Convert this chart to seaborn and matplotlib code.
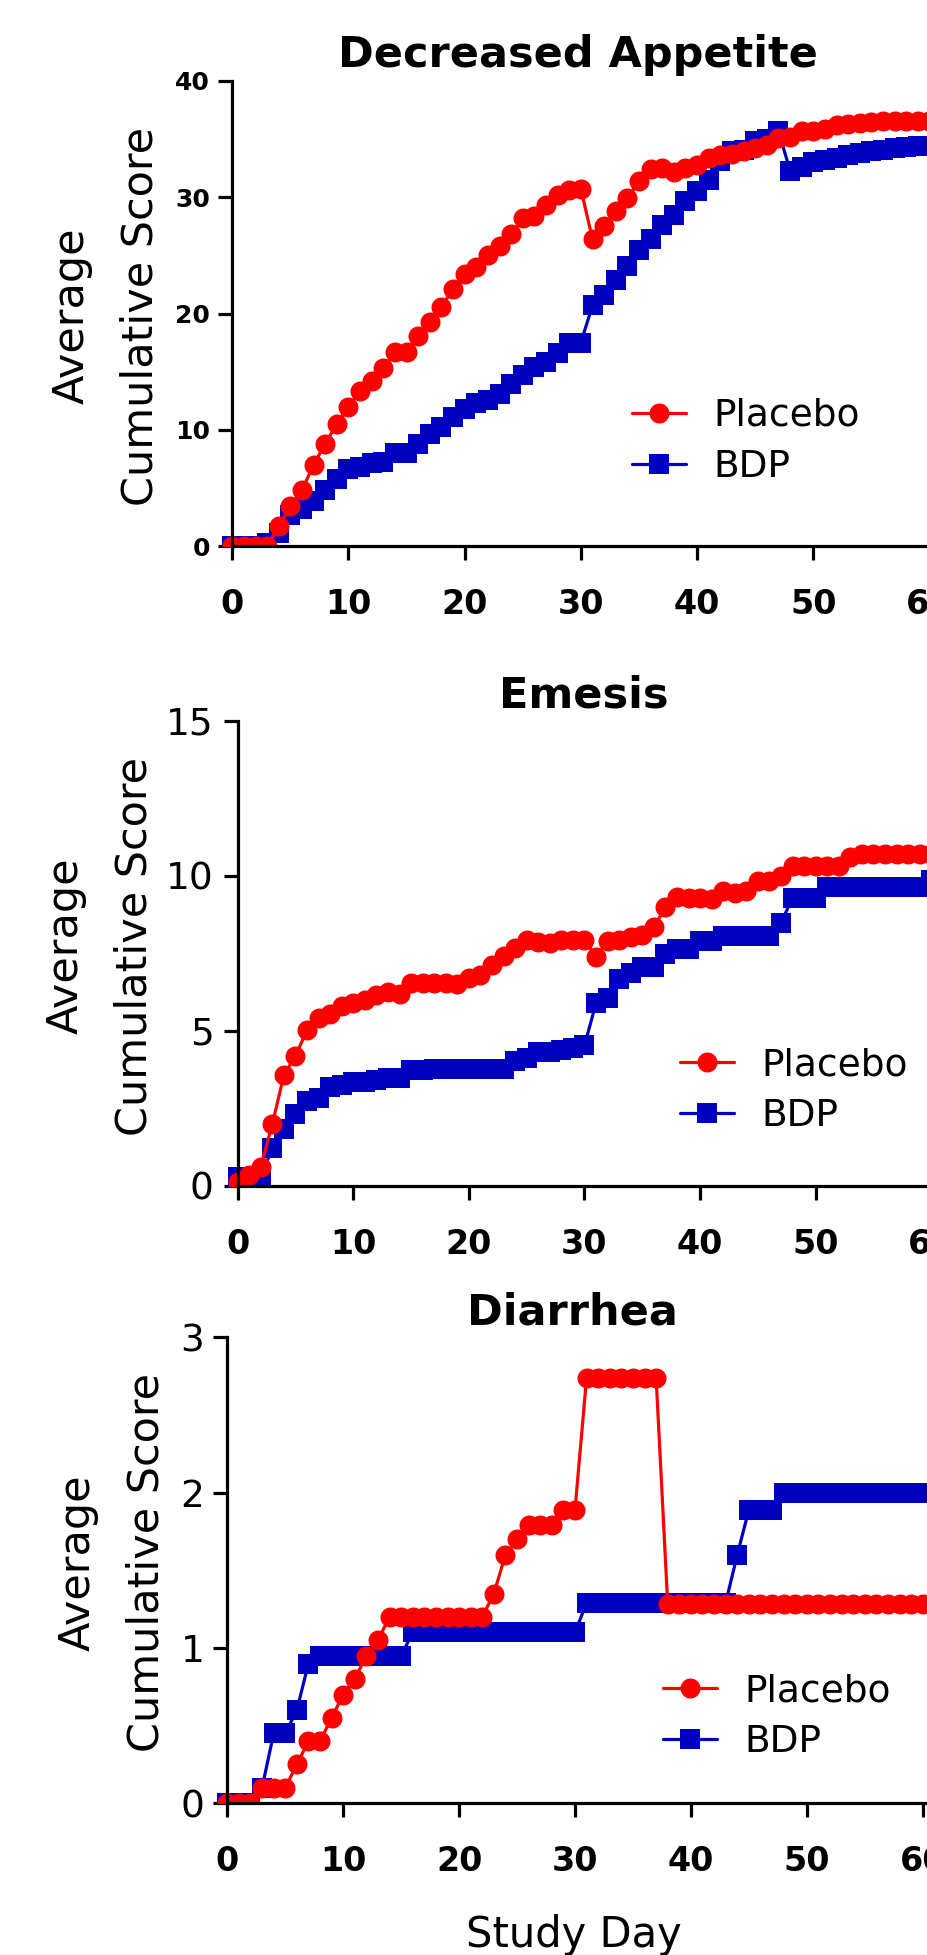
import matplotlib
matplotlib.use("Agg")
import matplotlib.pyplot as plt
import pandas as pd
import seaborn as sns

# ---------------- data ----------------
days = list(range(0, 61))

appetite_placebo = [0, 0, 0, 0, 1.7, 3.4, 4.8, 7.0, 8.8, 10.5,
                    12.0, 13.3, 14.2, 15.3, 16.7, 16.7, 18.1, 19.3, 20.6, 22.1,
                    23.4, 24.0, 25.0, 25.8, 26.8, 28.2, 28.4, 29.3, 30.2, 30.6,
                    30.7, 26.4, 27.5, 28.8, 29.9, 31.4, 32.4, 32.5, 32.2, 32.5,
                    32.8, 33.4, 33.6, 33.7, 34.0, 34.2, 34.5, 35.1, 35.2, 35.7,
                    35.7, 35.9, 36.2, 36.3, 36.4, 36.5, 36.6, 36.6, 36.6, 36.6, 36.6]
appetite_bdp = [0, 0, 0, 0.3, 1.1, 2.7, 3.2, 3.9, 4.8, 5.8,
                6.6, 6.8, 7.1, 7.2, 8.0, 8.0, 8.8, 9.6, 10.2, 11.1,
                11.8, 12.3, 12.6, 13.1, 13.9, 14.7, 15.4, 15.8, 16.6, 17.5,
                17.5, 20.7, 21.6, 22.9, 24.1, 25.5, 26.4, 27.6, 28.5, 29.7,
                30.5, 31.5, 33.1, 34.0, 34.1, 34.8, 35.0, 35.7, 32.3, 32.6,
                33.0, 33.2, 33.4, 33.6, 33.8, 34.0, 34.1, 34.2, 34.3, 34.4, 34.4]

emesis_placebo = [0.14, 0.35, 0.62, 2.0, 3.58, 4.19, 5.03, 5.4, 5.54, 5.8,
                  5.9, 6.0, 6.16, 6.27, 6.2, 6.54, 6.54, 6.54, 6.54, 6.52,
                  6.7, 6.8, 7.13, 7.4, 7.67, 7.94, 7.85, 7.83, 7.94, 7.94,
                  7.94, 7.38, 7.91, 7.94, 8.02, 8.1, 8.34, 8.99, 9.31, 9.28,
                  9.28, 9.26, 9.5, 9.44, 9.5, 9.82, 9.82, 10.0, 10.32, 10.32,
                  10.32, 10.32, 10.32, 10.62, 10.7, 10.7, 10.7, 10.7, 10.7, 10.7, 10.7]
emesis_bdp = [0.28, 0.28, 0.28, 1.24, 1.84, 2.32, 2.73, 2.85, 3.18, 3.27,
              3.34, 3.34, 3.43, 3.48, 3.48, 3.73, 3.75, 3.77, 3.78, 3.78,
              3.78, 3.78, 3.78, 3.78, 4.04, 4.14, 4.32, 4.32, 4.4, 4.46,
              4.53, 5.9, 6.07, 6.66, 6.87, 7.06, 7.06, 7.49, 7.65, 7.65,
              7.9, 7.9, 8.07, 8.07, 8.07, 8.07, 8.07, 8.48, 9.3, 9.3,
              9.3, 9.63, 9.65, 9.65, 9.65, 9.65, 9.65, 9.65, 9.65, 9.65, 9.86]

diarrhea_placebo = [0, 0, 0, 0.1, 0.1, 0.1, 0.25, 0.40, 0.40, 0.55,
                    0.70, 0.80, 0.95, 1.05, 1.2, 1.2, 1.2, 1.2, 1.2, 1.2,
                    1.2, 1.2, 1.2, 1.35, 1.6, 1.7, 1.79, 1.79, 1.79, 1.89,
                    1.89, 2.74, 2.74, 2.74, 2.74, 2.74, 2.74, 2.74, 1.28, 1.28,
                    1.28, 1.28, 1.28, 1.28, 1.28, 1.28, 1.28, 1.28, 1.28, 1.28,
                    1.28, 1.28, 1.28, 1.28, 1.28, 1.28, 1.28, 1.28, 1.28, 1.28, 1.28]
diarrhea_bdp = [0, 0, 0, 0.1, 0.45, 0.45, 0.6, 0.9, 0.95, 0.95,
                0.95, 0.95, 0.95, 0.95, 0.95, 0.95, 1.1, 1.1, 1.1, 1.1,
                1.1, 1.1, 1.1, 1.1, 1.1, 1.1, 1.1, 1.1, 1.1, 1.1,
                1.1, 1.29, 1.29, 1.29, 1.29, 1.29, 1.29, 1.29, 1.29, 1.29,
                1.29, 1.29, 1.29, 1.29, 1.6, 1.89, 1.89, 1.89, 2.0, 2.0,
                2.0, 2.0, 2.0, 2.0, 2.0, 2.0, 2.0, 2.0, 2.0, 2.0, 2.0]

titles = ["Decreased Appetite", "Emesis", "Diarrhea"]
series_labels = ["Placebo", "BDP"]
x_ticks = [0, 10, 20, 30, 40, 50, 60]
y_ticks = [[0, 10, 20, 30, 40], [0, 5, 10, 15], [0, 1, 2, 3]]
y_label = "Average\nCumulative Score"
x_label = "Study Day"

# ---------------- style ----------------
sns.set_style("ticks")
plt.rcParams['font.family'] = ['DejaVu Sans']

RED = "#FF0000"
BLUE = "#0000C0"
W, H = 928, 1955

fig = plt.figure(figsize=(W / 100, H / 100), dpi=100)

layout = [
    dict(x0=232.3, pxd=11.62, ybot=546.0, ytop=81.0, ysize=18, yweight='bold', ypad=6,
         title_x=578, title_base=67, ylab_x=106, ylab_y=316, leg=(632, 398)),
    dict(x0=237.7, pxd=11.56, ybot=1186.0, ytop=720.7, ysize=27, yweight='normal', ypad=7.5,
         title_x=584, title_base=707, ylab_x=100, ylab_y=946, leg=(680, 1047)),
    dict(x0=227.3, pxd=11.59, ybot=1803.3, ytop=1337.3, ysize=27, yweight='normal', ypad=6.5,
         title_x=572.5, title_base=1324.6, ylab_x=112, ylab_y=1563, leg=(663, 1673)),
]
data = [(appetite_placebo, appetite_bdp), (emesis_placebo, emesis_bdp),
        (diarrhea_placebo, diarrhea_bdp)]

for i, (lay, (plc, bdp)) in enumerate(zip(layout, data)):
    left_px = lay['x0'] - lay['pxd']
    width_px = lay['pxd'] * 63
    height_px = lay['ybot'] - lay['ytop']
    ax = fig.add_axes([left_px / W, 1 - lay['ybot'] / H, width_px / W, height_px / H])
    df = pd.DataFrame({"day": days, "Placebo": plc, "BDP": bdp})
    sns.lineplot(data=df, x="day", y="BDP", ax=ax, color=BLUE, marker='s',
                 markersize=13.9, linewidth=2.3, markeredgewidth=0, label="BDP",
                 errorbar=None)
    sns.lineplot(data=df, x="day", y="Placebo", ax=ax, color=RED, marker='o',
                 markersize=14.4, linewidth=2.3, markeredgewidth=0, label="Placebo",
                 errorbar=None)
    yt = y_ticks[i]
    ax.set_xlim(-1, 62)
    ax.set_ylim(0, yt[-1])
    ax.spines['left'].set_position(('data', 0))
    ax.spines['bottom'].set_bounds(0, 62)
    ax.spines['top'].set_visible(False)
    ax.spines['right'].set_visible(False)
    for s in ('left', 'bottom'):
        ax.spines[s].set_linewidth(2.3)
        ax.spines[s].set_color('black')
    ax.set_xticks(x_ticks)
    ax.set_yticks(yt)
    ax.tick_params(axis='both', direction='out', length=10, width=2.3, colors='black')
    ax.tick_params(axis='x', labelsize=24, pad=20)
    ax.tick_params(axis='y', labelsize=lay['ysize'], pad=lay['ypad'])
    for t in ax.get_xticklabels():
        t.set_fontweight('bold')
    for t in ax.get_yticklabels():
        t.set_fontweight(lay['yweight'])

    ax.set_title(titles[i], fontsize=31, fontweight='bold', color='black',
                 x=(lay['title_x'] - left_px) / width_px,
                 y=1 + (lay['ytop'] - lay['title_base']) / height_px, pad=0)

    ax.set_ylabel(y_label, fontsize=31, linespacing=1.8, va='center', ha='center',
                  color='black')
    ax.yaxis.set_label_coords(lay['ylab_x'] / W, 1 - lay['ylab_y'] / H,
                              transform=fig.transFigure)
    if i == 2:
        ax.set_xlabel(x_label, fontsize=30, va='baseline', color='black')
        ax.xaxis.set_label_coords(574 / W, 1 - 1947 / H, transform=fig.transFigure)
    else:
        ax.set_xlabel("")

    handles, labels = ax.get_legend_handles_labels()
    order = [labels.index(s) for s in series_labels]
    lx, ly = lay['leg']
    leg = ax.legend([handles[k] for k in order], [labels[k] for k in order],
                    loc='upper left', bbox_to_anchor=(lx / W, 1 - ly / H),
                    bbox_transform=fig.transFigure, frameon=False, fontsize=27,
                    handlelength=1.44, handletextpad=0.72, labelspacing=0.40,
                    borderpad=0, borderaxespad=0, numpoints=1)
    for t in leg.get_texts():
        t.set_color('black')

fig.savefig("out.png", dpi=100)
